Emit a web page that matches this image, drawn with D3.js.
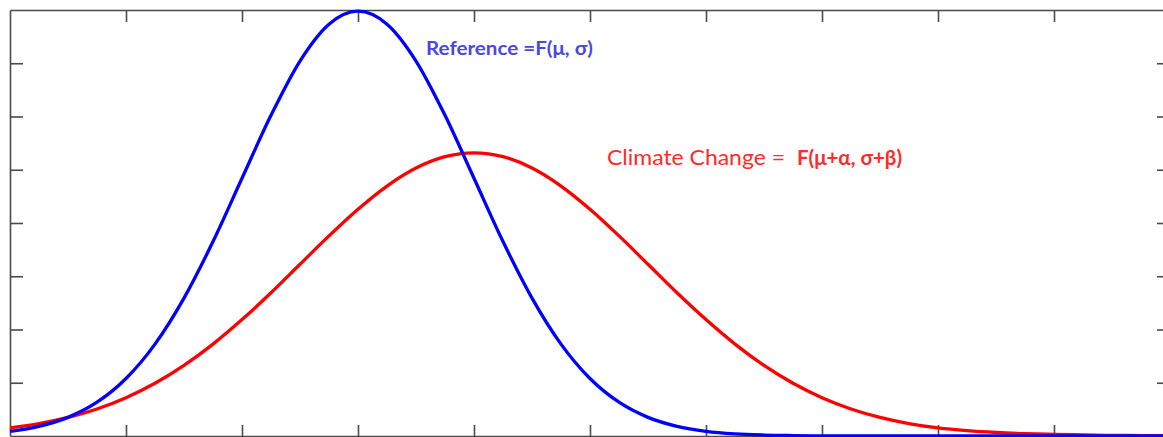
<!DOCTYPE html>
<html><head><meta charset="utf-8">
<script src="https://cdn.jsdelivr.net/npm/d3@7"></script>
<style>html,body{margin:0;padding:0;background:#fff;overflow:hidden}</style>
</head><body>
<svg id="c" width="1163" height="437"></svg>
<script>
// x positions (in sigma units of the reference curve)
const xs = [-3,-2.75,-2.5,-2.25,-2,-1.75,-1.5,-1.25,-1,-0.75,-0.5,-0.25,0,0.25,0.5,0.75,1,1.25,1.5,1.75,2,2.25,2.5,2.75,3,3.25,3.5,3.75,4,4.25,4.5,4.75,5,5.25,5.5,5.75,6,6.25,6.5,6.75,7];
// Reference curve (blue)
const referenceValues = [0.0044,0.0091,0.0175,0.0317,0.054,0.0863,0.1295,0.1826,0.242,0.3011,0.3521,0.3867,0.3989,0.3867,0.3521,0.3011,0.242,0.1826,0.1295,0.0863,0.054,0.0317,0.0175,0.0091,0.0044,0.002,0.0009,0.0004,0.0001,0,0,0,0,0,0,0,0,0,0,0,0];
// Climate change curve (red)
const climateValues = [0.0076,0.0117,0.0175,0.0254,0.036,0.0495,0.0663,0.0863,0.1093,0.1345,0.1613,0.1879,0.2129,0.2347,0.2516,0.2623,0.2659,0.2623,0.2516,0.2347,0.2129,0.1879,0.1613,0.1345,0.1093,0.0863,0.0663,0.0495,0.036,0.0254,0.0175,0.0117,0.0076,0.005,0.0033,0.0022,0.0015,0.001,0.0006,0.0004,0.0002];
const xTicks = [-2,-1,0,1,2,3,4,5,6];
const yTicks = [0.05,0.1,0.15,0.2,0.25,0.3,0.35];
const labels = ["Reference =F(μ, σ)", "Climate Change =", "F(μ+α, σ+β)"];

const svg = d3.select("#c");
const L = 10, T = 10, R = 1170, B = 436;
const x = d3.scaleLinear().domain([-3,7]).range([L,R]);
const y = d3.scaleLinear().domain([0,0.4]).range([B,T]);

const axisColor = "#4a4a4a";
function styleAxis(g){
  g.selectAll("path.domain").attr("stroke",axisColor).attr("stroke-width",1.6);
  g.selectAll(".tick line").attr("stroke",axisColor).attr("stroke-width",1.6);
  g.selectAll(".tick text").remove();
}
svg.append("g").attr("transform",`translate(0,${T})`)
  .call(d3.axisTop(x).tickValues(xTicks).tickSizeInner(-12).tickSizeOuter(0).tickFormat("")).call(styleAxis);
svg.append("g").attr("transform",`translate(0,${B})`)
  .call(d3.axisBottom(x).tickValues(xTicks).tickSizeInner(-11).tickSizeOuter(0).tickFormat("")).call(styleAxis);
svg.append("g").attr("transform",`translate(${L},0)`)
  .call(d3.axisLeft(y).tickValues(yTicks).tickSizeInner(-13).tickSizeOuter(0).tickFormat("")).call(styleAxis);
svg.append("g").attr("transform",`translate(${R},0)`)
  .call(d3.axisRight(y).tickValues(yTicks).tickSizeInner(-13).tickSizeOuter(0).tickFormat("")).call(styleAxis);

const line = d3.line().x((d,i)=>x(xs[i])).y(d=>y(d)).curve(d3.curveMonotoneX);
svg.append("path").datum(climateValues).attr("d",line).attr("fill","none").attr("stroke","#ff0000").attr("stroke-width",3.3);
svg.append("path").datum(referenceValues).attr("d",line).attr("fill","none").attr("stroke","#0000ff").attr("stroke-width",3.3);

const font = "Lato, 'Open Sans', sans-serif";
svg.append("text").attr("x",426).attr("y",55).attr("fill","#4848e0")
  .style("font-family",font).style("font-size","19.5px").style("font-weight","bold")
  .attr("textLength",167).attr("lengthAdjust","spacingAndGlyphs")
  .text(labels[0]);
svg.append("text").attr("x",607).attr("y",165).attr("fill","#ff2a2a")
  .style("font-family",font).style("font-size","20.5px")
  .attr("textLength",178).attr("lengthAdjust","spacingAndGlyphs")
  .text(labels[1]);
svg.append("text").attr("x",797).attr("y",165).attr("fill","#ff2a2a")
  .style("font-family",font).style("font-size","20.5px").style("font-weight","bold")
  .attr("textLength",105).attr("lengthAdjust","spacingAndGlyphs")
  .text(labels[2]);
</script>
</body></html>
